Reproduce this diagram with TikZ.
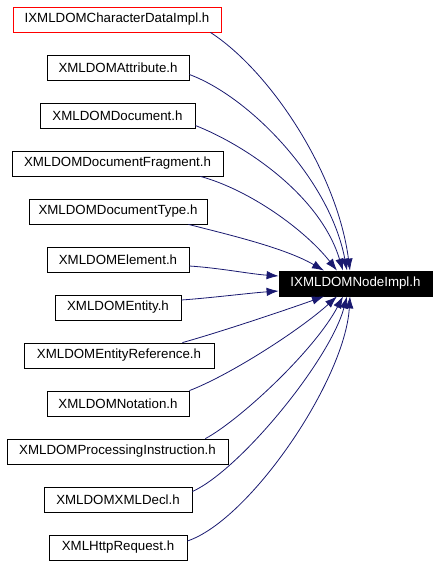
\documentclass[tikz,border=0pt]{standalone}
\usepackage{fontspec}
\setmainfont{Liberation Sans}
\usetikzlibrary{arrows.meta}
\definecolor{edgeblue}{HTML}{191970}

\begin{document}
\begin{tikzpicture}[x=1pt,y=-1pt,
  file/.style={draw=black,line width=0.8pt,inner sep=0pt,minimum height=25pt,font=\fontsize{13.3}{15}\selectfont},
  dep/.style={draw=edgeblue,line width=0.8pt,->,>={Latex[length=12pt,width=8.5pt]}}]
\useasboundingbox (0,0) rectangle (437,565);

%Dateien links
\node[file,draw=red,minimum width=208pt] (cdata) at (117,19.5) {IXMLDOMCharacterDataImpl.h};
\node[file,minimum width=142pt] (attr) at (118,67.5) {XMLDOMAttribute.h};
\node[file,minimum width=155pt] (doc) at (117.5,115.5) {XMLDOMDocument.h};
\node[file,minimum width=211pt] (frag) at (117.5,163.5) {XMLDOMDocumentFragment.h};
\node[file,minimum width=178pt] (doctype) at (118,211.5) {XMLDOMDocumentType.h};
\node[file,minimum width=142pt] (elem) at (118,259.5) {XMLDOMElement.h};
\node[file,minimum width=126pt] (entity) at (118,307.5) {XMLDOMEntity.h};
\node[file,minimum width=190pt] (entref) at (119,355.5) {XMLDOMEntityReference.h};
\node[file,minimum width=142pt] (notation) at (118,403.5) {XMLDOMNotation.h};
\node[file,minimum width=221pt] (procinstr) at (117.5,451.5) {XMLDOMProcessingInstruction.h};
\node[file,minimum width=148pt] (xmldecl) at (118,499.5) {XMLDOMXMLDecl.h};
\node[file,minimum width=138pt] (httpreq) at (118,547.5) {XMLHttpRequest.h};

%Ziel
\node[file,fill=black,text=white,minimum width=153pt] (impl) at (355.5,283.5) {IXMLDOMNodeImpl.h};

%Kanten von oben
\draw[dep] ([xshift=-11pt]cdata.south east) .. controls (270,71) and (337,172) .. ([xshift=-5.5pt]impl.north);
\draw[dep] ([yshift=-7pt]attr.east) .. controls (250,97) and (330,180) .. ([xshift=-8.5pt]impl.north);
\draw[dep] ([yshift=-10pt]doc.east) .. controls (245,145) and (320,195) .. ([xshift=-12.5pt]impl.north);
\draw[dep] ([xshift=-23pt]frag.south east) .. controls (250,190) and (305,230) .. ([xshift=-18.5pt]impl.north);
\draw[dep] ([xshift=-19pt]doctype.south east) .. controls (230,235) and (285,248) .. ([xshift=-31.5pt]impl.north);
%Kanten von links
\draw[dep] ([yshift=-6.5pt]elem.east) .. controls (220,268) and (250,274) .. ([yshift=7.5pt]impl.west);
\draw[dep] ([yshift=7.5pt]entity.east) .. controls (210,298) and (250,293) .. ([yshift=-7.5pt]impl.west);
%Kanten von unten
\draw[dep] ([xshift=-32pt]entref.north east) .. controls (220,332) and (280,312) .. ([xshift=-31.5pt]impl.south);
\draw[dep] (notation.north east) .. controls (230,375) and (300,330) .. ([xshift=-18.5pt]impl.south);
\draw[dep] ([xshift=-23pt]procinstr.north east) .. controls (240,420) and (315,350) .. ([xshift=-12.5pt]impl.south);
\draw[dep] ([yshift=8pt]xmldecl.east) .. controls (240,470) and (330,360) .. ([xshift=-8.5pt]impl.south);
\draw[dep] ([yshift=6.5pt]httpreq.east) .. controls (250,520) and (345,380) .. ([xshift=-5.5pt]impl.south);
\end{tikzpicture}
\end{document}
